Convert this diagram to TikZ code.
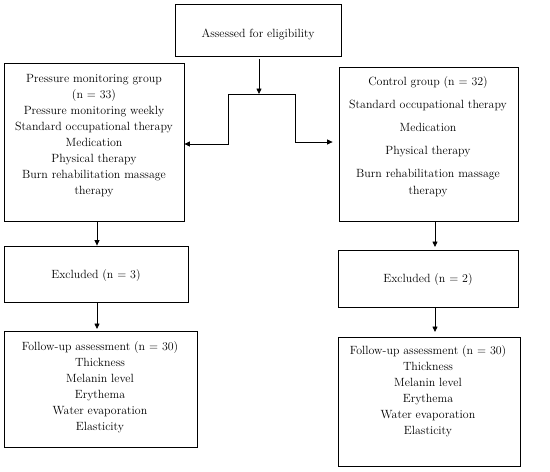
\documentclass[tikz,border=0pt]{standalone}
\usetikzlibrary{arrows.meta,fit}
\begin{document}
\begin{tikzpicture}[x=1pt,y=-1pt,
  box/.style={draw, line width=0.8pt, inner sep=0pt},
  txt/.style={align=center, font=\fontsize{11.9}{16.1}\selectfont, inner sep=0pt},
  arr/.style={-{Triangle[length=5.5pt,width=5pt]}, line width=0.8pt},
  ln/.style={line width=0.8pt}]
\useasboundingbox (0,0) rectangle (550,472);
% boxes
\node[box, fit={(175,4) (341,56)}] (top) {};
\node[box, fit={(4,63) (184,221)}] (g1) {};
\node[box, fit={(339,67) (518,221)}] (g2) {};
\node[box, fit={(4,246) (188,302)}] (e1) {};
\node[box, fit={(338,250) (518,307)}] (e2) {};
\node[box, fit={(4,331) (197,447)}] (f1) {};
\node[box, fit={(338,337) (520,466)}] (f2) {};
% texts
\node[txt] (ttop) at (258,34) {Assessed for eligibility};
\node[txt] (tg1) at (94,135.5) {Pressure monitoring group\\(n = 33)\\Pressure monitoring weekly\\Standard occupational therapy\\Medication\\Physical therapy\\Burn rehabilitation massage\\therapy};
\node[txt] (tg2) at (428,136.5) {Control group (n = 32)\\[7pt]Standard occupational therapy\\[7pt]Medication\\[7pt]Physical therapy\\[7pt]Burn rehabilitation massage\\therapy};
\node[txt] (te1) at (96,276) {Excluded (n = 3)};
\node[txt] (te2) at (428,280) {Excluded (n = 2)};
\node[txt] (tf1) at (100,387) {Follow-up assessment (n = 30)\\Thickness\\Melanin level\\Erythema\\Water evaporation\\Elasticity};
\node[txt] (tf2) at (428,391) {Follow-up assessment (n = 30)\\Thickness\\Melanin level\\Erythema\\Water evaporation\\Elasticity};
% connectors
\coordinate (split) at (259,94);
\coordinate (sl) at (228,94);
\coordinate (sr) at (295,94);
\draw[arr] (top.south -| split) ++(0,3) -- (split);
\draw[ln] (sl) -- (sr);
\draw[arr] (sl) -- (228,144) -- (g1.east |- 0,144);
\draw[arr, shorten >=6pt] (sr) -- (295,142) -- (g2.west |- 0,142);
\draw[arr] (g1.south -| 97,0) -- (e1.north -| 97,0);
\draw[arr] (e1.south -| 97,0) -- (97,329);
\draw[arr] (g2.south -| 435,0) -- (435,247);
\draw[arr] (e2.south -| 435,0) -- (435,332);
\end{tikzpicture}
\end{document}
